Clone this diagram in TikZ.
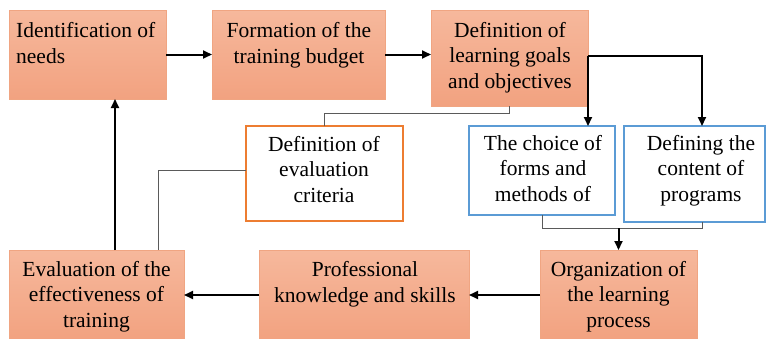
\documentclass[tikz,border=0pt]{standalone}
\usepackage{fontspec}
\setmainfont{Liberation Serif}
\usetikzlibrary{arrows.meta,calc}
\definecolor{ortop}{RGB}{246,184,156}
\definecolor{orbot}{RGB}{242,162,128}
\definecolor{orline}{RGB}{240,165,130}
\definecolor{orframe}{RGB}{237,125,49}
\definecolor{blframe}{RGB}{91,155,213}
\definecolor{thingray}{RGB}{90,90,90}
\tikzset{
  box/.style={rectangle,inner sep=0pt,outer sep=0pt,anchor=north west},
  obox/.style={box,top color=ortop,bottom color=orbot,draw=orline,line width=0.6pt},
  wobox/.style={box,fill=white,draw=orframe,line width=1.4pt},
  wbbox/.style={box,fill=white,draw=blframe,line width=1.4pt},
  lbl/.style={inner sep=0pt,anchor=base,align=center,font=\fontsize{21.5}{25.5}\selectfont},
  arr/.style={line width=2pt,-{Triangle[length=9pt,width=8pt]}},
  thinl/.style={line width=1pt,draw=thingray}
}
\begin{document}
\begin{tikzpicture}[x=1pt,y=-1pt]
\useasboundingbox (0,0) rectangle (766,338);
\clip (0,0) rectangle (766,338);
% boxes
\node[obox,minimum width=157pt,minimum height=89pt] (b1) at (9,10) {};
\node[obox,minimum width=173pt,minimum height=89pt] (b2) at (212,10) {};
\node[obox,minimum width=157pt,minimum height=96pt] (b3) at (431,10) {};
\node[wobox,minimum width=157pt,minimum height=95pt] (b4) at (246,126) {};
\node[wbbox,minimum width=146pt,minimum height=89pt] (b5) at (469,126) {};
\node[wbbox,minimum width=141pt,minimum height=96pt] (b6) at (624,126) {};
\node[obox,minimum width=175pt,minimum height=90pt] (b7) at (9,250) {};
\node[obox,minimum width=210pt,minimum height=90pt] (b8) at (259,250) {};
\node[obox,minimum width=157pt,minimum height=90pt] (b9) at (540,250) {};
% labels (anchor base = baseline of last line)
\node[lbl,anchor=base west,align=left] (t1) at (16,63) {Identification of\\needs};
\node[lbl] (t2) at (299,63) {Formation of the\\training budget};
\node[lbl] (t3) at (510,88) {Definition of\\learning goals\\and objectives};
\node[lbl] (t4) at (324,202) {Definition of\\evaluation\\criteria};
\node[lbl] (t5) at (543,201) {The choice of\\forms and\\methods of};
\node[lbl] (t6) at (701,201) {Defining the\\content of\\programs};
\node[lbl] (t7) at (96.5,327) {Evaluation of the\\effectiveness of\\training};
\node[lbl] (t8) at (365,302) {Professional\\knowledge and skills};
\node[lbl] (t9) at (618.5,327) {Organization of\\the learning\\process};
% connectors
\draw[arr] (b1) -- (b2);
\draw[arr] (b2.east) -- (b2.east -| b3.west);
\coordinate (j1) at (588,56);
\coordinate (j2) at (702,56);
\draw[arr] (j1) -- (j1 |- b5.north);
\draw[arr] (j1) -- (j2) -- (j2 |- b6.north);
\draw[thinl] (b5.south) -- ++(0,13) coordinate (k1) -| ($(b6.south)+(7.5,0)$);
\draw[arr] (b9.north |- k1) -- (b9.north);
\draw[arr] (b9) -- (b8);
\draw[arr] (b8) -- (b7);
\coordinate (u) at (115,250);
\draw[arr] (u) -- (u |- b1.south);
\coordinate (v) at (158,250);
\draw[thinl] (v) |- ($(b4.west)+(0,-3.5)$);
\draw[thinl] (b4.north) -- ++(0,-13) -| (b3.south);
\end{tikzpicture}
\end{document}
